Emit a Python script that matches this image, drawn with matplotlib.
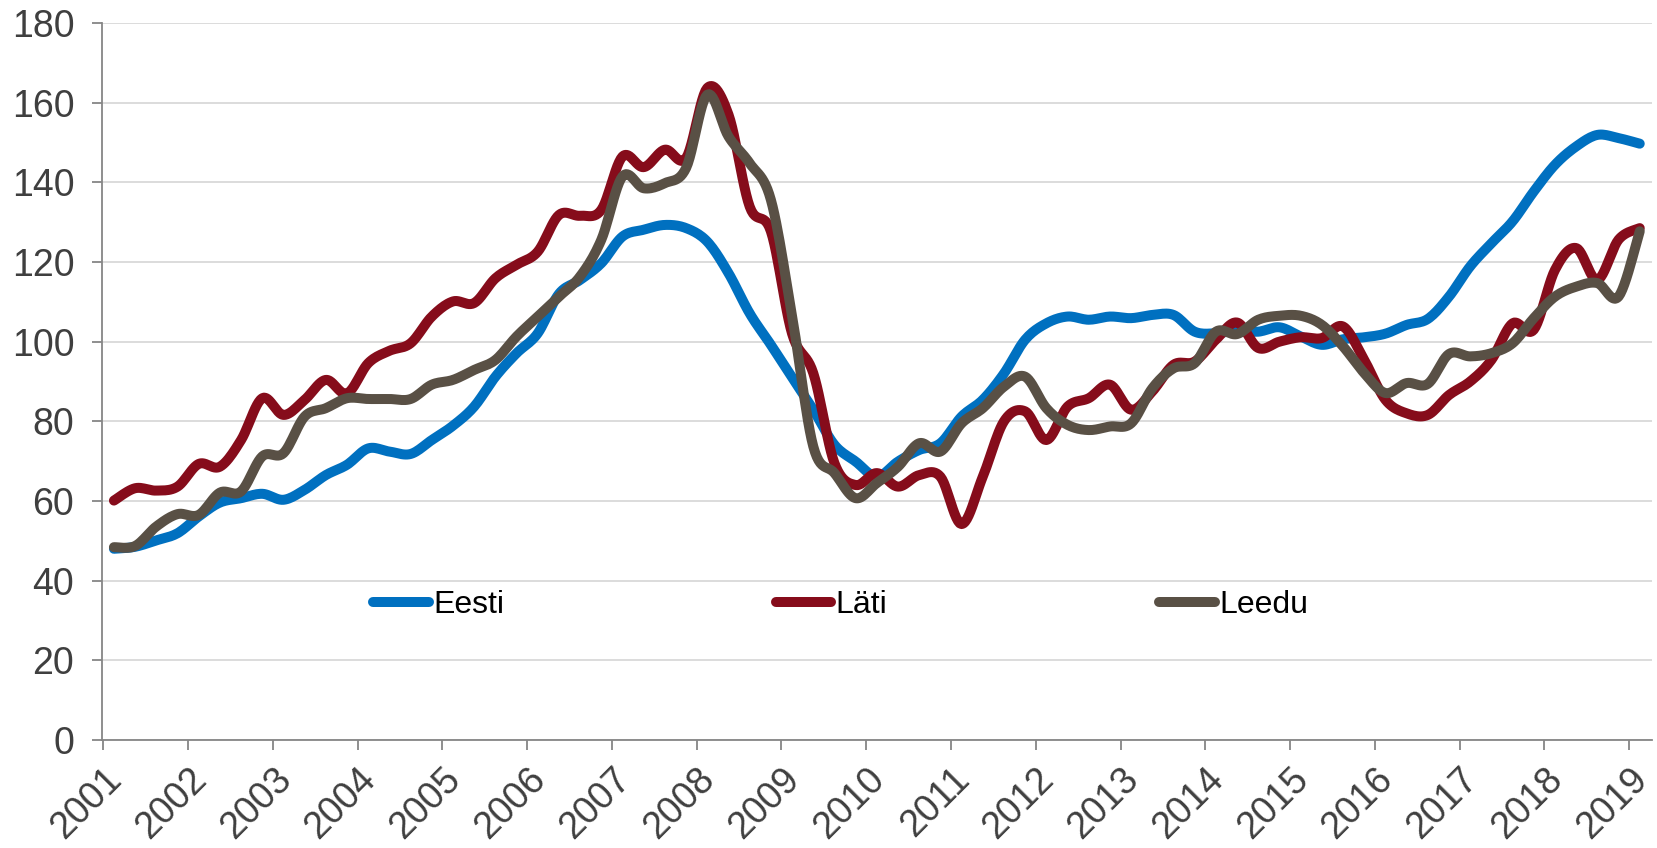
import numpy as np
import matplotlib
matplotlib.use("Agg")
import matplotlib.pyplot as plt
from matplotlib.transforms import ScaledTranslation

plt.rcParams['font.family'] = ['Liberation Sans', 'DejaVu Sans']

# quarterly data, Q1 2001 .. Q1 2019 (mid-quarter dates)
start_year = 2001.125
eesti = [48, 48.5, 50.1, 51.9, 56.1, 59.6, 60.7, 61.8, 60.3, 62.8,
         66.5, 69.1, 73.2, 72.4, 71.8, 75.3, 78.9, 83.7, 91.2, 97.1,
         102.1, 112, 115.5, 119.7, 126.4, 128.1, 129.3, 128.5, 125.1, 117.2,
         107.1, 99.2, 91, 82.9, 74.1, 69.9, 66.1, 69.9, 72.8, 74.5,
         81.2, 85.4, 92, 100.5, 104.6, 106.3, 105.5, 106.3, 105.9, 106.7,
         106.7, 102.5, 102.1, 102.8, 102.5, 103.6, 101.3, 99.2, 100.6, 101.1,
         102.0, 104.2, 105.7, 111.3, 118.9, 124.7, 130.2, 137.7, 144.4, 149.0,
         151.9, 151.1, 149.7]
lati = [60.1, 63.2, 62.6, 63.6, 69.3, 68.6, 75.3, 85.8, 81.6, 85.4,
        90.4, 87, 94.6, 97.7, 99.6, 106.3, 110.1, 109.7, 115.9, 119.3,
        122.6, 131.8, 131.6, 133.1, 146.5, 143.8, 148.2, 146.1, 163.7, 157.0,
        133.9, 127.7, 102, 92.1, 69.5, 64.0, 67.0, 63.6, 66.5, 66.1,
        54.2, 66.1, 80.0, 82.5, 75.3, 83.7, 85.8, 89.2, 82.9, 87.5,
        94.2, 95.0, 100.5, 104.8, 98.4, 100.0, 101.1, 100.9, 103.8, 95.4,
        85.4, 82.0, 81.6, 86.6, 90.0, 95.4, 104.6, 103.0, 118.0, 123.5,
        115.5, 125.6, 128.5]
leedu = [48.4, 48.7, 53.6, 56.7, 56.5, 62.1, 62.4, 71.2, 72, 81.2,
         83.3, 85.8, 85.6, 85.6, 85.6, 89.2, 90.4, 92.9, 95.4, 101.3,
         106.3, 111.3, 116.4, 125.6, 141.5, 138.5, 139.8, 143.6, 162, 151.5,
         144.8, 135.6, 106.5, 73.7, 67.0, 60.7, 64.5, 68.6, 74.5, 72.4,
         79.5, 83.3, 88.7, 91.2, 83.3, 79.1, 77.8, 78.7, 79.5, 88.3,
         93.3, 94.6, 102.5, 101.9, 105.5, 106.5, 106.5, 104.2, 98.8, 92.1,
         87.1, 89.6, 89.4, 96.9, 96.3, 97.1, 99.6, 105.9, 111.3, 113.8,
         114.7, 111.3, 127.7]
names = ['Eesti', 'Läti', 'Leedu']
colors = ['#0070C0', '#860C1B', '#595045']
years = list(range(2001, 2020))


def smooth(x, y, n=12):
    # Catmull-Rom curve through the points, like Excel's smoothed line
    x = np.asarray(x, float)
    y = np.asarray(y, float)
    px = np.concatenate([[x[0]], x, [x[-1]]])
    py = np.concatenate([[y[0]], y, [y[-1]]])
    t = np.linspace(0, 1, n, endpoint=False)
    xs, ys = [], []
    for k in range(1, len(px) - 2):
        for arr, out in ((px, xs), (py, ys)):
            p0, p1, p2, p3 = arr[k - 1], arr[k], arr[k + 1], arr[k + 2]
            out.extend(0.5 * (2 * p1 + (-p0 + p2) * t
                              + (2 * p0 - 5 * p1 + 4 * p2 - p3) * t ** 2
                              + (-p0 + 3 * p1 - 3 * p2 + p3) * t ** 3))
    xs.append(x[-1])
    ys.append(y[-1])
    return np.array(xs), np.array(ys)


fig = plt.figure(figsize=(16.57, 8.48), dpi=100)
ax = fig.add_axes([0.0616, 0.1274, 0.9354, 0.8455])

x = start_year + 0.25 * np.arange(len(eesti))
for vals, name, col in zip([eesti, lati, leedu], names, colors):
    sx, sy = smooth(x, vals)
    ax.plot(sx, sy, color=col, lw=7.2, label=name,
            solid_capstyle='round', solid_joinstyle='round')

ax.set_ylim(0, 180)
ax.set_yticks(range(0, 181, 20))
ax.set_xlim(2000.985, 2019.27)
ax.set_xticks(years)
ax.set_xticklabels([str(y) for y in years], rotation=45, ha='right',
                   va='top', rotation_mode='anchor', fontsize=27)
shift = ScaledTranslation(-16 / 100, 0, fig.dpi_scale_trans)
for lbl in ax.get_xticklabels():
    lbl.set_transform(lbl.get_transform() + shift)

ax.grid(axis='y', color='#D9D9D9', lw=1.3)
ax.set_axisbelow(True)
for s in ['top', 'right']:
    ax.spines[s].set_visible(False)
for s in ['left', 'bottom']:
    ax.spines[s].set_color('#868686')
    ax.spines[s].set_linewidth(1.3)
ax.tick_params(axis='both', colors='#868686', width=1.3, length=7,
               labelcolor='#3F3F3F')
ax.tick_params(axis='y', pad=13, labelsize=27)
ax.tick_params(axis='x', pad=8)

leg = ax.legend(loc='center left', bbox_to_anchor=(373 / 1657, 1 - 605 / 848),
                bbox_transform=fig.transFigure, ncol=3, frameon=False,
                fontsize=23, handlelength=1.75, handletextpad=0.13,
                columnspacing=8.5, borderpad=0, borderaxespad=0)
for t in leg.get_texts():
    t.set_color('#000000')

fig.savefig('out.png', dpi=100)
